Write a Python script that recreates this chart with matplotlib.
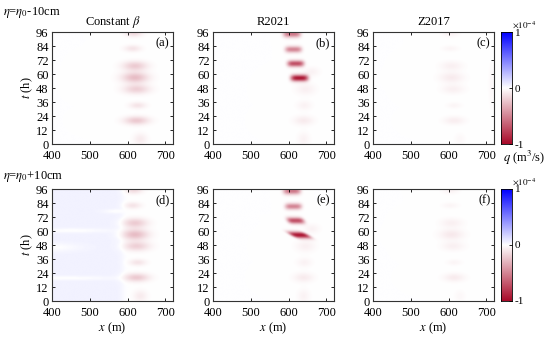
import numpy as np
import matplotlib
matplotlib.use("Agg")
import matplotlib.pyplot as plt
from matplotlib.colors import LinearSegmentedColormap

plt.rcParams['font.family'] = ['Liberation Serif', 'DejaVu Serif']
plt.rcParams['mathtext.fontset'] = 'stix'

# ---- data ----
x_ticks = [400, 500, 600, 700]
t_ticks = [0, 12, 24, 36, 48, 60, 72, 84, 96]
col_titles = ["Constant $\\beta$", "R2021", "Z2017"]
row_labels = ["$\\eta$=$\\eta_0$-10cm", "$\\eta$=$\\eta_0$+10cm"]
panel_tags = ["(a)", "(b)", "(c)", "(d)", "(e)", "(f)"]
cbar_ticks = [-1, 0, 1]

# blobs of q (x1e-4 m^3/s): centre time, centre x, amplitude, half-width x, half-width t
a_t = [4, 20, 33, 47, 57, 67, 82, 95]
a_x = [632, 622, 625, 622, 618, 618, 612, 615]
a_amp = [-0.08, -0.22, -0.11, -0.19, -0.27, -0.21, -0.11, -0.14]
a_wx = [18, 32, 22, 34, 34, 32, 22, 22]
a_wt = [5, 3.5, 2.8, 4, 4.5, 4, 2.8, 3]

b_t = [4, 20, 33, 47, 62, 56.6, 69, 81.2, 94.5]
b_x = [640, 640, 642, 645, 662, 629, 619, 613, 609]
b_amp = [-0.05, -0.08, -0.05, -0.06, -0.05, -0.95, -0.72, -0.5, -0.55]
b_wx = [16, 26, 20, 26, 20, 23, 22, 22, 23]
b_wt = [6, 4, 4, 5, 4, 2.8, 2.7, 2.7, 3.0]
b_sharp = [1, 1, 1, 1, 1, 2, 2, 2, 2]

c_t = [4, 20, 33, 47, 57, 67, 82, 95, 50]
c_x = [630, 615, 615, 612, 608, 608, 605, 605, 714]
c_amp = [-0.03, -0.07, -0.04, -0.06, -0.08, -0.06, -0.04, -0.05, -0.03]
c_wx = [14, 28, 20, 30, 32, 30, 22, 22, 8]
c_wt = [5, 3.5, 2.5, 4, 4.5, 4, 2.5, 3, 18]

d_bg_amp = 0.05
d_bg_edge = 586
d_gap_t = [19.5, 46, 60.5, 77]
d_gap_x = [420, 400, 450, 570]
d_gap_wx = [140, 70, 100, 35]
d_gap_wt = [1.8, 3.5, 1.9, 1.8]

e_slant = [0, 0, 0, 0, 0, 0.9, 0.3, 0, 0]

f_amp = [-0.03, -0.08, -0.04, -0.06, -0.09, -0.06, -0.04, -0.05, -0.0]

# ---- build fields ----
xg = np.linspace(400, 720, 321)
tg = np.linspace(0, 96, 241)
X, T = np.meshgrid(xg, tg)


def blobs(ts, xs, amps, wxs, wts, sharp=None, slant=None):
    Z = np.zeros_like(X)
    for i in range(len(ts)):
        p = 1 if sharp is None else sharp[i]
        s = 0 if slant is None else slant[i]
        xx = (X - xs[i] - s * (ts[i] - T) * 5) / wxs[i]
        tt = (T - ts[i]) / wts[i]
        Z += amps[i] * np.exp(-np.abs(xx) ** (2 * p) - tt ** 2)
    return Z


def background():
    mask = 1.0 / (1.0 + np.exp((X - d_bg_edge) / 5))
    g = np.ones_like(X)
    for i in range(len(d_gap_t)):
        g -= np.exp(-((T - d_gap_t[i]) / d_gap_wt[i]) ** 2
                    - ((X - d_gap_x[i]) / d_gap_wx[i]) ** 2)
    return d_bg_amp * mask * np.clip(g, 0, 1)


fields = [
    blobs(a_t, a_x, a_amp, a_wx, a_wt),
    blobs(b_t, b_x, b_amp, b_wx, b_wt, b_sharp),
    blobs(c_t, c_x, c_amp, c_wx, c_wt),
    blobs(a_t, a_x, a_amp, a_wx, a_wt) + background(),
    blobs(b_t, b_x, b_amp, b_wx, b_wt, b_sharp, e_slant),
    blobs(c_t, c_x, f_amp, c_wx, c_wt),
]

cmap = LinearSegmentedColormap.from_list(
    "rb", [(0.0, (0.66, 0.04, 0.16)), (0.5, (1, 1, 1)), (1.0, (0.0, 0.0, 1.0))])

W, H = 550, 340
fig = plt.figure(figsize=(W / 100, H / 100), dpi=100)


def fa(l, t, w, h):
    return [l / W, 1 - (t + h) / H, w / W, h / H]


lefts = [52, 213, 373]
tops = [32, 189]
aw, ah = 121, 112
fs = 9

for r in range(2):
    for c in range(3):
        k = r * 3 + c
        ax = fig.add_axes(fa(lefts[c], tops[r], aw, ah))
        ax.imshow(fields[k], extent=[400, 720, 0, 96], origin='lower',
                  aspect='auto', cmap=cmap, vmin=-1, vmax=1,
                  interpolation='bilinear')
        ax.set_xlim(400, 720)
        ax.set_ylim(0, 96)
        ax.set_xticks(x_ticks)
        ax.set_yticks(t_ticks)
        ax.tick_params(direction='in', top=True, right=True, length=2.5,
                       width=0.6, labelsize=fs)
        ax.tick_params(axis='x', pad=4.5)
        ax.tick_params(axis='y', pad=2.5)
        for sp in ax.spines.values():
            sp.set_linewidth(0.8)
            sp.set_color('#333333')
        ax.text(0.97, 0.95, panel_tags[k], transform=ax.transAxes,
                ha='right', va='top', fontsize=fs)
        if c == 0:
            ax.set_ylabel("$t$ (h)", fontsize=fs, labelpad=1)
        if r == 0:
            ax.set_title(col_titles[c], fontsize=fs, pad=5)
        else:
            ax.set_xlabel("$x$ (m)", fontsize=fs, labelpad=1)

    cax = fig.add_axes(fa(501, tops[r], 11, ah))
    grad = np.linspace(-1, 1, 256).reshape(-1, 1)
    cax.imshow(grad, extent=[0, 1, -1, 1], origin='lower', aspect='auto',
               cmap=cmap, vmin=-1, vmax=1)
    cax.set_xticks([])
    cax.set_ylim(-1, 1)
    cax.yaxis.tick_right()
    cax.set_yticks(cbar_ticks)
    cax.set_yticklabels(["-1", "0", "1"])
    cax.tick_params(direction='in', length=2, width=0.6, labelsize=fs - 1, pad=2)
    for sp in cax.spines.values():
        sp.set_linewidth(0.6)
    cax.text(1.0, 1.02, "$\\times10^{-4}$", transform=cax.transAxes,
             ha='left', va='bottom', fontsize=fs - 2.5)

fig.text(3 / W, 1 - 12 / H, row_labels[0], fontsize=fs, ha='left', va='center')
fig.text(3 / W, 1 - 176 / H, row_labels[1], fontsize=fs, ha='left', va='center')
fig.text(524 / W, 1 - 158 / H, "$q$ (m$^3$/s)", fontsize=fs, ha='center',
         va='center')

fig.savefig("out.png", dpi=100)
